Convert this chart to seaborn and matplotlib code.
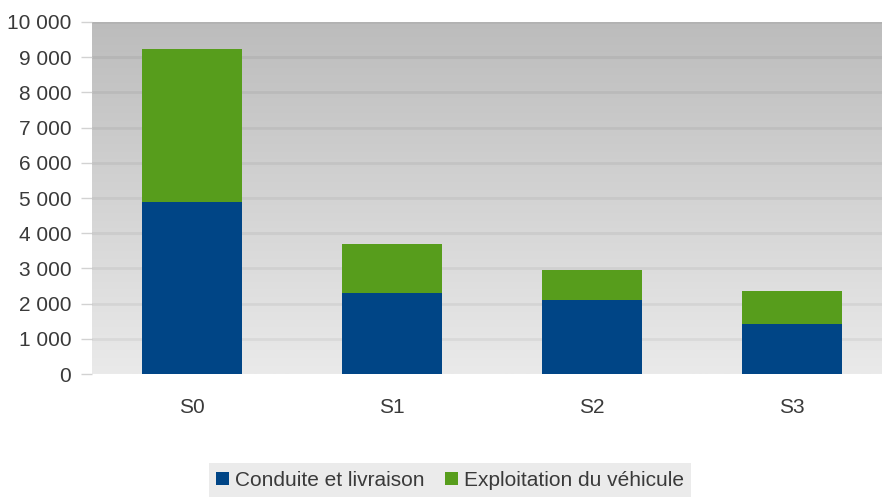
import numpy as np
import pandas as pd
import seaborn as sns
import matplotlib.pyplot as plt
import matplotlib.ticker as ticker
from matplotlib.patches import Patch
from matplotlib.colors import LinearSegmentedColormap

# values
scenarios = ['S0', 'S1', 'S2', 'S3']
conduite = [4900, 2290, 2100, 1420]
exploitation = [4330, 1400, 850, 950]
series_names = ['Conduite et livraison', 'Exploitation du véhicule']
colors = ['#004586', '#579d1c']

sns.set_style('white')
plt.rcParams['font.family'] = ['Liberation Sans Narrow', 'Liberation Sans', 'DejaVu Sans']

df = pd.DataFrame({'scenario': scenarios, 'conduite': conduite, 'exploitation': exploitation})
df['total'] = df['conduite'] + df['exploitation']

fig = plt.figure(figsize=(8.82, 4.98), dpi=100)
W, H = 882, 498
ax = fig.add_axes([92 / W, 1 - 374 / H, 800 / W, 352 / H])

# grey gradient background of the plot area
grad = np.linspace(0, 1, 256).reshape(-1, 1)
bg = LinearSegmentedColormap.from_list('bg', ['#eaeaea', '#bcbcbc'])
ax.imshow(grad, extent=[0, 1, 0, 1], transform=ax.transAxes, aspect='auto',
          cmap=bg, origin='lower', zorder=0)

sns.barplot(data=df, x='scenario', y='total', color=colors[1], width=0.5,
            saturation=1, linewidth=0, ax=ax, zorder=3)
sns.barplot(data=df, x='scenario', y='conduite', color=colors[0], width=0.5,
            saturation=1, linewidth=0, ax=ax, zorder=4)

ax.set_xlim(-0.5, 3.5)
ax.set_ylim(0, 10000)
ax.yaxis.set_major_locator(ticker.MultipleLocator(1000))
ax.yaxis.set_major_formatter(ticker.FuncFormatter(lambda v, p: f'{int(v):,}'.replace(',', ' ')))
ax.set_xlabel('')
ax.set_ylabel('')

for y in range(1000, 10001, 1000):
    ax.axhline(y, color=(0, 0, 0, 0.05), linewidth=2, zorder=1)

for s in ax.spines.values():
    s.set_visible(False)

ax.xaxis.set_minor_locator(ticker.FixedLocator([-0.5, 0.5, 1.5, 2.5, 3.5]))
ax.tick_params(axis='x', which='major', length=0, pad=17, labelsize=15, labelcolor='#3a3a3a')
ax.tick_params(axis='x', which='minor', length=9, width=1, color='#d2d2d2', direction='out')
ax.tick_params(axis='y', which='major', left=True, length=8, width=1, color='#d2d2d2',
               pad=7, labelsize=15, labelcolor='#3a3a3a')

handles = [Patch(facecolor=c, edgecolor='none') for c in colors]
leg = fig.legend(handles, series_names, loc='center', bbox_to_anchor=(450 / W, 1 - 480 / H),
                 ncol=2, frameon=True, fontsize=15, handlelength=0.6, handleheight=0.6,
                 handletextpad=0.3, columnspacing=1.0, borderpad=0.35, fancybox=False)
leg.get_frame().set_facecolor('#e6e6e6')
leg.get_frame().set_edgecolor('none')
for t in leg.get_texts():
    t.set_color('#3a3a3a')

fig.savefig('out.png', dpi=100)
